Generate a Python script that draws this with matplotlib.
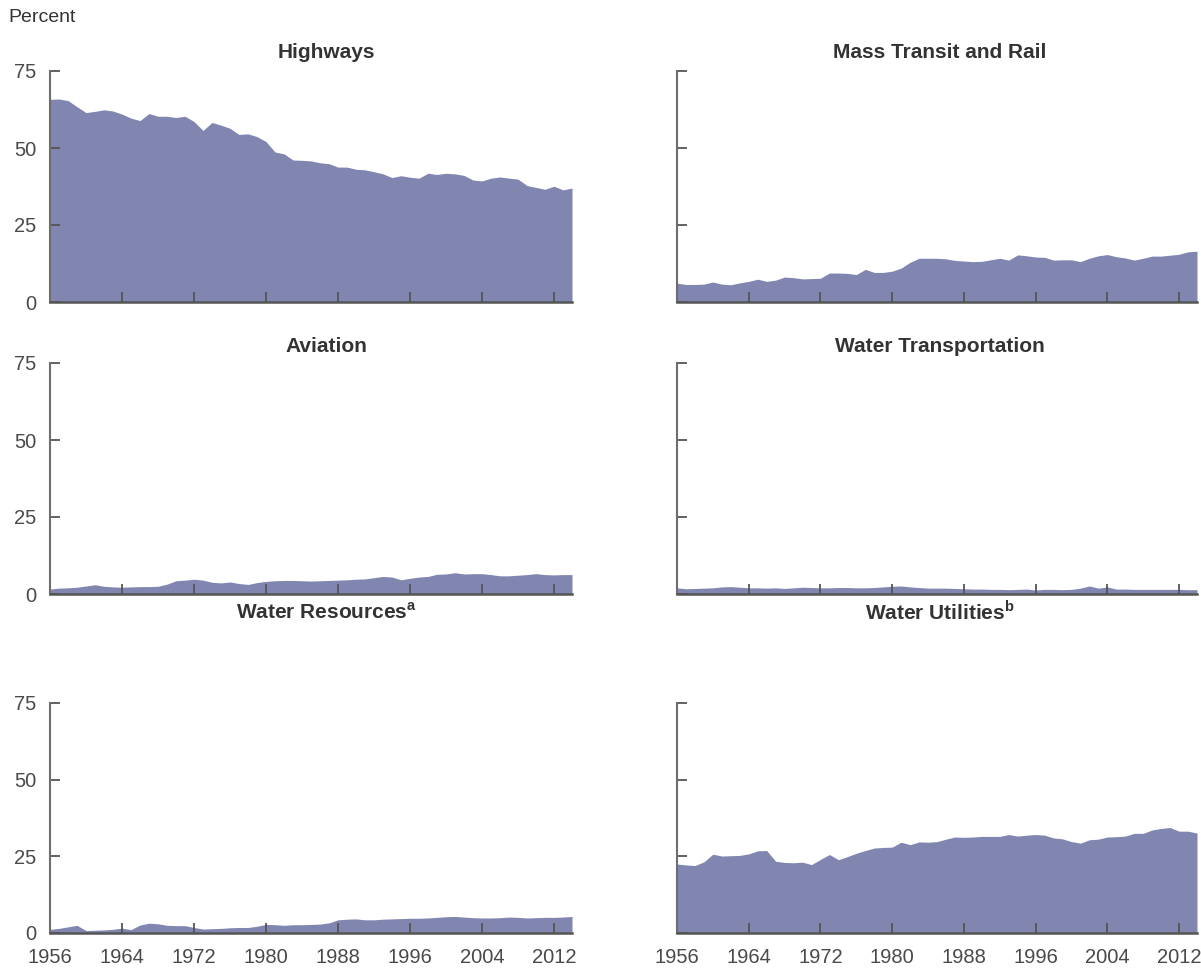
import numpy as np
import matplotlib
matplotlib.use("Agg")
import matplotlib.pyplot as plt

plt.rcParams['font.family'] = ['Liberation Sans', 'DejaVu Sans']
plt.rcParams['mathtext.fontset'] = 'custom'
plt.rcParams['mathtext.bf'] = 'Liberation Sans:bold'
plt.rcParams['mathtext.rm'] = 'Liberation Sans'

# Data: share of public spending by category, 1956-2014
years = np.arange(1956, 2015)

highways = [65.8, 65.9, 65.4, 63.4, 61.5, 61.9, 62.4, 62.0, 61.0, 59.7,
            58.9, 61.2, 60.3, 60.3, 59.9, 60.3, 58.6, 55.7, 58.3, 57.4,
            56.4, 54.4, 54.6, 53.7, 52.1, 48.7, 48.1, 46.1, 46.0, 45.8,
            45.2, 44.9, 43.8, 43.8, 43.1, 42.9, 42.3, 41.6, 40.4, 41.0,
            40.5, 40.2, 41.8, 41.4, 41.8, 41.6, 41.1, 39.6, 39.3, 40.2,
            40.6, 40.2, 39.9, 37.8, 37.2, 36.6, 37.6, 36.4, 37.0]

mass_transit = [6.1, 5.7, 5.7, 5.8, 6.5, 5.8, 5.6, 6.2, 6.7, 7.4,
                6.7, 7.1, 8.1, 7.9, 7.5, 7.6, 7.7, 9.4, 9.4, 9.3,
                8.9, 10.6, 9.6, 9.6, 10.0, 11.0, 12.9, 14.2, 14.2, 14.2,
                14.0, 13.5, 13.3, 13.1, 13.2, 13.7, 14.2, 13.6, 15.3, 15.0,
                14.6, 14.5, 13.6, 13.7, 13.7, 13.1, 14.2, 15.0, 15.4, 14.7,
                14.3, 13.6, 14.2, 14.9, 14.9, 15.2, 15.5, 16.3, 16.5]

aviation = [1.6, 1.9, 2.0, 2.2, 2.6, 3.0, 2.5, 2.3, 2.2, 2.3,
            2.4, 2.4, 2.5, 3.2, 4.3, 4.5, 4.8, 4.5, 3.8, 3.6,
            3.9, 3.4, 3.1, 3.7, 4.1, 4.3, 4.4, 4.4, 4.3, 4.2,
            4.3, 4.4, 4.5, 4.6, 4.8, 4.9, 5.3, 5.7, 5.5, 4.6,
            5.1, 5.5, 5.7, 6.4, 6.5, 6.9, 6.5, 6.6, 6.6, 6.3,
            5.9, 5.9, 6.1, 6.3, 6.6, 6.3, 6.2, 6.3, 6.3]

water_transport = [2.0, 1.7, 1.8, 1.9, 2.0, 2.3, 2.4, 2.2, 2.0, 2.0,
                   1.9, 2.0, 1.8, 2.0, 2.2, 2.1, 2.0, 2.0, 2.1, 2.1,
                   2.0, 2.0, 2.1, 2.3, 2.5, 2.6, 2.3, 2.1, 1.9, 1.9,
                   1.9, 1.8, 1.7, 1.6, 1.6, 1.5, 1.5, 1.4, 1.5, 1.6,
                   1.3, 1.5, 1.5, 1.4, 1.5, 1.9, 2.6, 1.9, 2.3, 1.6,
                   1.6, 1.5, 1.5, 1.5, 1.5, 1.5, 1.5, 1.4, 1.4]

water_resources = [1.2, 1.5, 2.0, 2.5, 0.8, 0.9, 1.0, 1.2, 1.6, 1.1,
                   2.6, 3.2, 3.0, 2.5, 2.4, 2.4, 1.8, 1.3, 1.4, 1.5,
                   1.7, 1.8, 1.8, 2.2, 2.8, 2.7, 2.5, 2.7, 2.7, 2.8,
                   2.9, 3.3, 4.3, 4.5, 4.6, 4.3, 4.3, 4.5, 4.6, 4.7,
                   4.8, 4.8, 4.9, 5.1, 5.3, 5.4, 5.2, 5.0, 4.9, 4.9,
                   5.0, 5.2, 5.1, 4.9, 5.0, 5.1, 5.1, 5.2, 5.4]

water_utilities = [22.5, 22.2, 22.0, 23.2, 25.7, 25.1, 25.2, 25.3, 25.8, 26.8,
                   26.9, 23.4, 23.0, 22.9, 23.1, 22.3, 24.0, 25.6, 23.9, 24.9,
                   26.0, 26.9, 27.7, 27.9, 28.0, 29.6, 28.8, 29.7, 29.6, 29.8,
                   30.6, 31.3, 31.2, 31.3, 31.5, 31.5, 31.5, 32.1, 31.6, 31.9,
                   32.1, 31.9, 31.0, 30.7, 29.8, 29.3, 30.4, 30.6, 31.3, 31.4,
                   31.6, 32.5, 32.5, 33.6, 34.1, 34.4, 33.2, 33.2, 32.6]

titles = ["Highways", "Mass Transit and Rail", "Aviation",
          "Water Transportation", r"Water Resources$^{\mathbf{a}}$",
          r"Water Utilities$^{\mathbf{b}}$"]
series = [highways, mass_transit, aviation, water_transport,
          water_resources, water_utilities]

xticks = [1956, 1964, 1972, 1980, 1988, 1996, 2004, 2012]
yticks = [0, 25, 50, 75]

fill_color = "#8086b0"
W, H = 1201, 974

fig = plt.figure(figsize=(W / 100, H / 100), dpi=100)

# panel boxes in pixels (x0, x1, y_top, y_bottom)
cols = [(50, 572), (677, 1197)]
rows = [(71, 302), (363, 594), (703, 933)]
title_y = [53, 346, 612]
title_x = [326, 940]

for i, (name, vals) in enumerate(zip(titles, series)):
    r, c = divmod(i, 2)
    x0, x1 = cols[c]
    y0, y1 = rows[r]
    ax = fig.add_axes([x0 / W, 1 - y1 / H, (x1 - x0) / W, (y1 - y0) / H])
    ax.fill_between(years, vals, 0, color=fill_color, lw=0)
    ax.set_xlim(1956, 2014)
    ax.set_ylim(0, 75)
    ax.set_xticks(xticks)
    ax.set_yticks(yticks)
    for s in ["top", "right"]:
        ax.spines[s].set_visible(False)
    ax.spines["left"].set_color("#6e6e6e")
    ax.spines["left"].set_linewidth(1.5)
    ax.spines["bottom"].set_color("#555555")
    ax.spines["bottom"].set_linewidth(1.8)
    ax.tick_params(direction="in", length=7, width=1.3, color="#555555",
                   labelsize=14.5, labelcolor="#4a4a4a")
    ax.tick_params(axis="y", pad=10)
    ax.tick_params(axis="x", pad=11)
    if r != 2:
        ax.tick_params(axis="x", labelbottom=False)
    if c == 1:
        ax.tick_params(axis="y", labelleft=False)
    fig.text(title_x[c] / W, 1 - title_y[r] / H, name, ha="center",
             va="center", fontsize=15, fontweight="bold", color="#333333")

fig.text(8 / W, 1 - 17 / H, "Percent", ha="left", va="center",
         fontsize=14, color="#333333")

plt.savefig("out.png", dpi=100)
